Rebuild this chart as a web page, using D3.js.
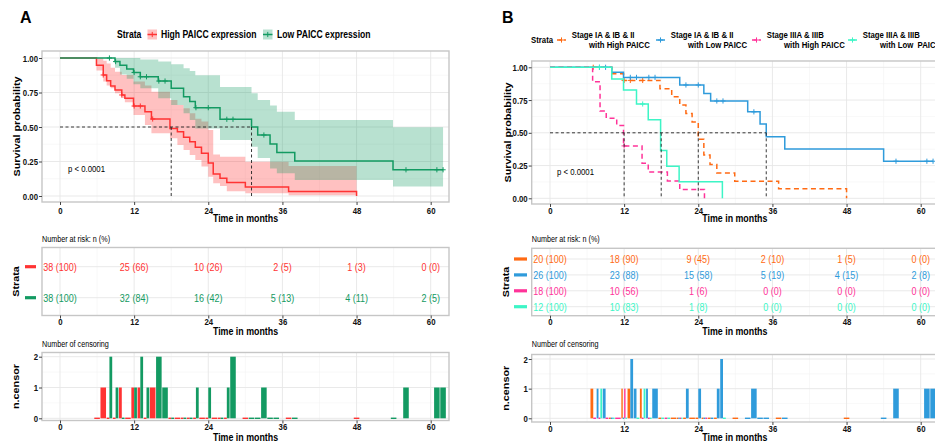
<!DOCTYPE html>
<html lang="en">
<head>
<meta charset="UTF-8">
<title>PAICC survival curves</title>
<script src="https://d3js.org/d3.v7.min.js"></script>
<style>
    body { margin: 0; background: #fff; }
    svg { display: block; font-family: 'Liberation Sans', Arial, Helvetica, sans-serif; }
</style>
</head>
<body>
<svg id="chart" width="935" height="444"></svg>
<script>
// ---------- shared axes ----------
const months = [0, 12, 24, 36, 48, 60];
const minorMonths = [6, 18, 30, 42, 54];
const survTicks = [0, 0.25, 0.5, 0.75, 1];
const survMinor = [0.125, 0.375, 0.625, 0.875];
const censorTicks = [0, 1, 2];
const censorMinor = [0.5, 1.5];

// ---------- panel A : PAICC expression ----------
const strataA = ["High PAICC expression", "Low PAICC expression"];

const highTime  = [0, 5.9, 7.0, 7.55, 8.2, 8.9, 10.0, 10.5, 11.9, 13.75, 14.8, 17.8, 19.0, 20.0, 21.0, 21.9, 22.9, 24.0, 24.8, 25.9, 27.0, 30.0, 37.0, 48.0];
const highSurv  = [1, 0.947, 0.877, 0.836, 0.797, 0.768, 0.732, 0.708, 0.652, 0.611, 0.558, 0.49, 0.466, 0.425, 0.394, 0.353, 0.309, 0.24, 0.16, 0.128, 0.097, 0.065, 0.032, 0];
const highUpper = [1, 1, 0.98, 0.96, 0.93, 0.90, 0.877, 0.877, 0.829, 0.80, 0.756, 0.696, 0.66, 0.635, 0.60, 0.56, 0.54, 0.478, 0.30, 0.285, 0.285, 0.249, 0.217, 0.217];
const highLower = [1, 0.91, 0.83, 0.80, 0.78, 0.744, 0.71, 0.68, 0.587, 0.514, 0.454, 0.418, 0.37, 0.333, 0.297, 0.261, 0.213, 0.14, 0.092, 0.072, 0.035, 0.02, 0.005, 0.005];

const lowTime  = [0, 8.9, 9.7, 10.8, 11.9, 13.0, 15.9, 18.0, 20.0, 21.0, 21.9, 25.9, 31.0, 32.0, 34.0, 35.1, 38.0, 53.9, 62.0];
const lowSurv  = [1, 0.974, 0.947, 0.921, 0.895, 0.864, 0.833, 0.78, 0.72, 0.684, 0.64, 0.556, 0.50, 0.442, 0.377, 0.316, 0.254, 0.19, 0.19];
const lowUpper = [1, 1, 1, 1, 1, 0.99, 0.975, 0.955, 0.925, 0.905, 0.875, 0.79, 0.744, 0.696, 0.655, 0.611, 0.551, 0.498, 0.498];
const lowLower = [1, 0.93, 0.88, 0.85, 0.81, 0.78, 0.708, 0.66, 0.60, 0.55, 0.49, 0.406, 0.357, 0.275, 0.20, 0.164, 0.116, 0.068, 0.068];

const riskHigh = ["38 (100)", "25 (66)", "10 (26)", "2 (5)", "1 (3)", "0 (0)"];
const riskLow  = ["38 (100)", "32 (84)", "16 (42)", "5 (13)", "4 (11)", "2 (5)"];

// [month, n.censor]
const censorHigh = [[6,0],[7,1],[8,0],[9,0],[10,1],[11,0],[12,1],[13,1],[14,0],[15,1],[18,0],[19,0],[20,0],[21,0],[22,0],[23,0],[24,0],[25,0],[26,0],[27,0],[30,0],[37,0],[48,0]];
const censorLow  = [[8,2],[9,1],[10,0],[12,1],[13,2],[14,1],[16,2],[17,1],[18,0],[20,0],[21,0],[22,1],[24,1],[26,0],[27,1],[28,2],[31,0],[32,0],[33,1],[34,0],[35,0],[38,0],[54,0],[56,1],[61,1],[62,1]];

const medianA = [18, 31];

// ---------- panel B : stage x PAICC ----------
const strataB = [
    ["Stage IA & IB & II", "with High PAICC"],
    ["Stage IA & IB & II", "with Low PAICC"],
    ["Stage IIIA & IIIB", "with High PAICC"],
    ["Stage IIIA & IIIB", "with Low  PAICC"]
];

const earlyHighTime = [0, 10.0, 11.9, 17.8, 19.7, 21.0, 22.0, 23.0, 24.0, 24.9, 25.9, 27.0, 29.9, 37.0, 48.0];
const earlyHighSurv = [1, 0.95, 0.90, 0.836, 0.776, 0.712, 0.648, 0.583, 0.45, 0.33, 0.258, 0.194, 0.13, 0.072, 0];
const earlyLowTime  = [0, 10.0, 11.9, 21.0, 24.9, 26.0, 32.0, 34.0, 35.0, 38.0, 54.0, 62.0];
const earlyLowSurv  = [1, 0.962, 0.923, 0.865, 0.80, 0.743, 0.66, 0.567, 0.47, 0.377, 0.283, 0.283];
const lateHighTime  = [0, 6.9, 8.1, 9.1, 10.8, 11.9, 14.9, 15.9, 19.0, 21.0, 25.0];
const lateHighSurv  = [1, 0.889, 0.667, 0.611, 0.556, 0.40, 0.267, 0.20, 0.133, 0.067, 0];
const lateLowTime   = [0, 10.0, 11.9, 14.0, 15.9, 17.9, 18.9, 20.9, 27.9];
const lateLowSurv   = [1, 0.91, 0.827, 0.72, 0.60, 0.364, 0.245, 0.127, 0];

const riskEarlyHigh = ["20 (100)", "18 (90)", "9 (45)", "2 (10)", "1 (5)", "0 (0)"];
const riskEarlyLow  = ["26 (100)", "23 (88)", "15 (58)", "5 (19)", "4 (15)", "2 (8)"];
const riskLateHigh  = ["18 (100)", "10 (56)", "1 (6)", "0 (0)", "0 (0)", "0 (0)"];
const riskLateLow   = ["12 (100)", "10 (83)", "1 (8)", "0 (0)", "0 (0)", "0 (0)"];

const censorEarlyHigh = [[7,1],[10,0],[12,1],[13,1],[15,1],[18,0],[20,0],[21,0],[22,0],[23,0],[24,0],[25,0],[26,0],[27,0],[30,0],[37,0],[48,0]];
const censorEarlyLow  = [[8,1],[9,1],[10,0],[12,0],[13,2],[14,1],[16,1],[17,1],[21,0],[22,1],[24,1],[25,0],[26,0],[27,1],[28,2],[32,0],[33,1],[34,0],[35,0],[38,0],[54,0],[56,1],[61,1],[62,1]];
const censorLateHigh  = [[7,0],[8,0],[9,0],[11,0],[12,1],[15,0],[16,0],[19,0],[21,0],[25,0]];
const censorLateLow   = [[8,1],[10,0],[12,0],[14,0],[15,1],[16,0],[18,0],[19,0],[21,0],[28,0]];

const medianB = [12, 18, 24, 35];

// ---------- drawing ----------
const SX = 0.82;   // the source figure is squeezed horizontally
const svg = d3.select("#chart");

function label(g, x, y, s, o = {}) {
    return g.append("text")
        .attr("transform", `translate(${x},${y}) scale(${o.sx || SX},1)` + (o.rot ? " rotate(-90)" : ""))
        .attr("text-anchor", o.anchor || "start")
        .attr("dy", o.rot ? "0.35em" : null)
        .attr("font-size", o.size || 10)
        .attr("font-weight", o.bold ? "bold" : "normal")
        .attr("fill", o.fill || "#000")
        .style("white-space", "pre")
        .text(s);
}

function grid(g, x, y, fx, fy, yMajor, yMinor) {
    const lines = (vals, horiz, col, w) => vals.forEach(v => {
        const l = g.append("line").attr("stroke", col).attr("stroke-width", w);
        if (horiz) l.attr("x1", fx[0]).attr("x2", fx[1]).attr("y1", y(v)).attr("y2", y(v));
        else l.attr("x1", x(v)).attr("x2", x(v)).attr("y1", fy[0]).attr("y2", fy[1]);
    });
    lines(minorMonths, false, "#F3F3F3", 0.6);
    lines(yMinor, true, "#F3F3F3", 0.6);
    lines(months, false, "#E6E6E6", 0.9);
    lines(yMajor, true, "#E6E6E6", 0.9);
}

function frame(g, fx, fy) {
    g.append("rect").attr("x", fx[0]).attr("y", fy[0])
        .attr("width", fx[1] - fx[0]).attr("height", fy[1] - fy[0])
        .attr("fill", "none").attr("stroke", "#C6C6C6").attr("stroke-width", 1.4);
}

function xAxis(g, x, y0, pad) {
    const ax = g.append("g").attr("transform", `translate(0,${y0})`)
        .call(d3.axisBottom(x).tickValues(months).tickSize(3).tickPadding(pad));
    ax.attr("font-family", null).attr("font-size", 9.5).attr("font-weight", "bold");
    ax.select(".domain").remove();
    ax.selectAll("line").attr("stroke", "#444");
    ax.selectAll("text").attr("fill", "#111").attr("transform", `scale(${SX},1)`);
}

function yAxis(g, y, x0, ticks, fmt) {
    const ax = g.append("g").attr("transform", `translate(${x0},0)`)
        .call(d3.axisLeft(y).tickValues(ticks).tickSize(3).tickPadding(1).tickFormat(fmt));
    ax.attr("font-family", null).attr("font-size", 9.5).attr("font-weight", "bold");
    ax.select(".domain").remove();
    ax.selectAll("line").attr("stroke", "#444");
    ax.selectAll("text").attr("fill", "#111").attr("x", -4 / SX).attr("transform", `scale(${SX},1)`);
}

const plusPath = "M-2.6,0H2.6M0,-2.6V2.6";

function drawPanel(p) {
    const g = svg.append("g");
    const x = d3.scaleLinear().domain([0, 60]).range(p.xRange);
    const fx = p.frameX;
    const midX = (fx[0] + fx[1]) / 2;

    // panel letter
    label(g, p.letterX, 23, p.letter, { size: 16, bold: true, sx: 1 });

    // ---- survival plot ----
    const y = d3.scaleLinear().domain([0, 1]).range(p.survY);
    grid(g, x, y, fx, p.survFrame, survTicks, survMinor);

    p.groups.forEach((gr, i) => {
        if (!gr.upper) return;
        const pts = gr.time.map((t, k) => ({ t, lo: gr.lower[k], up: gr.upper[k] }));
        g.append("path").datum(pts)
            .attr("d", d3.area().curve(d3.curveStepAfter)
                .x(d => x(d.t)).y0(d => y(d.lo)).y1(d => y(d.up)))
            .attr("fill", p.colors[i]).attr("fill-opacity", 0.3);
    });

    p.groups.forEach((gr, i) => {
        const pts = gr.time.map((t, k) => [t, gr.surv[k]]);
        g.append("path").datum(pts)
            .attr("d", d3.line().curve(d3.curveStepAfter).x(d => x(d[0])).y(d => y(d[1])))
            .attr("fill", "none").attr("stroke", p.colors[i]).attr("stroke-width", 1.5)
            .attr("stroke-dasharray", p.dashed[i] ? "5,3.5" : null);
        // censoring marks
        gr.censor.filter(c => c[1] > 0).forEach(c => {
            const k = d3.bisectRight(gr.time, c[0]) - 1;
            g.append("path").attr("d", plusPath)
                .attr("transform", `translate(${x(c[0])},${y(gr.surv[k])})`)
                .attr("stroke", p.colors[i]).attr("stroke-width", 1).attr("fill", "none");
        });
    });

    // median lines
    const mMax = d3.max(p.medians);
    g.append("line").attr("x1", x(0)).attr("x2", x(mMax)).attr("y1", y(0.5)).attr("y2", y(0.5))
        .attr("stroke", "#222").attr("stroke-width", 0.9).attr("stroke-dasharray", "3,2.5");
    p.medians.forEach(m => {
        g.append("line").attr("x1", x(m)).attr("x2", x(m)).attr("y1", y(0.5)).attr("y2", y(0))
            .attr("stroke", "#222").attr("stroke-width", 0.9).attr("stroke-dasharray", "3,2.5");
    });

    label(g, p.pX, p.pY, "p < 0.0001", { size: 9.5 });
    frame(g, fx, p.survFrame);
    xAxis(g, x, p.survFrame[1], p.survPad);
    yAxis(g, y, fx[0], survTicks, d3.format(".2f"));
    label(g, midX, 222, "Time in months", { size: 10.8, bold: true, anchor: "middle" });
    label(g, p.yTitleX, (p.survFrame[0] + p.survFrame[1]) / 2, "Survival probability",
        { size: 10.8, bold: true, anchor: "middle", rot: true });

    // ---- risk table ----
    const yr = d3.scalePoint().domain(d3.range(p.groups.length)).range(p.riskRows);
    grid(g, x, yr, fx, p.riskFrame, d3.range(p.groups.length), []);
    p.groups.forEach((gr, i) => {
        months.forEach((m, j) => {
            label(g, x(m), yr(i) + 4, gr.risk[j], { size: 11, anchor: "middle", fill: p.colors[i] });
        });
        g.append("line").attr("x1", p.dashX[0]).attr("x2", p.dashX[1])
            .attr("y1", yr(i)).attr("y2", yr(i))
            .attr("stroke", p.colors[i]).attr("stroke-width", 3.2);
    });
    frame(g, fx, p.riskFrame);
    xAxis(g, x, p.riskFrame[1], 0);
    label(g, fx[0], 241.5, "Number at risk: n (%)", { size: 8.8 });
    label(g, midX, 335.3, "Time in months", { size: 10.8, bold: true, anchor: "middle" });
    label(g, p.yTitleX - 1.5, (p.riskFrame[0] + p.riskFrame[1]) / 2, "Strata",
        { size: 10.8, bold: true, anchor: "middle", rot: true });

    // ---- number of censoring ----
    const yc = d3.scaleLinear().domain([0, 2]).range(p.censorY);
    grid(g, x, yc, fx, p.censorFrame, censorTicks, censorMinor);
    const byTime = d3.group(p.groups.flatMap((gr, i) => gr.censor.map(c => ({ t: c[0], n: c[1], i }))), d => d.t);
    const bw = 0.9;
    byTime.forEach(list => {
        list.sort((a, b) => a.i - b.i);
        const w = bw / list.length;
        list.forEach((d, j) => {
            const x0 = x(d.t - bw / 2 + j * w), x1 = x(d.t - bw / 2 + (j + 1) * w);
            const top = d.n > 0 ? yc(d.n) : yc(0) - 0.7;
            g.append("rect").attr("x", x0).attr("width", x1 - x0)
                .attr("y", top).attr("height", d.n > 0 ? yc(0) - top : 1.4)
                .attr("fill", p.colors[d.i]);
        });
    });
    frame(g, fx, p.censorFrame);
    xAxis(g, x, p.censorFrame[1], 0);
    yAxis(g, yc, fx[0], censorTicks, d3.format("d"));
    label(g, fx[0], 347.3, "Number of censoring", { size: 8.8 });
    label(g, midX, 440.8, "Time in months", { size: 10.8, bold: true, anchor: "middle" });
    label(g, p.yTitleX - 1.5, (p.censorFrame[0] + p.censorFrame[1]) / 2, "n.censor",
        { size: 10.8, bold: true, anchor: "middle", rot: true });

    return g;
}

// ---- panel A ----
const colorsA = ["#FF3333", "#139A62"];
const gA = drawPanel({
    letter: "A", letterX: 20,
    xRange: [60, 430.7], frameX: [42, 449],
    survY: [196, 58], survFrame: [51, 202], survPad: 2,
    riskRows: [266.7, 297.7], riskFrame: [247.5, 315.5],
    censorY: [418.3, 356.7], censorFrame: [352.5, 420.5],
    yTitleX: 17, dashX: [25, 36], pX: 68, pY: 171.5,
    colors: colorsA, dashed: [false, false], medians: medianA,
    groups: [
        { time: highTime, surv: highSurv, upper: highUpper, lower: highLower, risk: riskHigh, censor: censorHigh },
        { time: lowTime, surv: lowSurv, upper: lowUpper, lower: lowLower, risk: riskLow, censor: censorLow }
    ]
});

// legend A
label(gA, 117, 37.5, "Strata", { size: 10.5, bold: true });
[[147.5, 161], [263, 277]].forEach((pos, i) => {
    gA.append("rect").attr("x", pos[0]).attr("y", 29.5).attr("width", 9.5).attr("height", 10)
        .attr("fill", colorsA[i]).attr("fill-opacity", 0.3);
    gA.append("line").attr("x1", pos[0]).attr("x2", pos[0] + 9.5).attr("y1", 34.5).attr("y2", 34.5)
        .attr("stroke", colorsA[i]).attr("stroke-width", 1.5);
    gA.append("path").attr("d", plusPath).attr("transform", `translate(${pos[0] + 4.75},34.5)`)
        .attr("stroke", colorsA[i]).attr("fill", "none");
    label(gA, pos[1], 37.5, strataA[i], { size: 10.5, bold: true });
});

// ---- panel B ----
const colorsB = ["#FF6A13", "#2F9BDB", "#FF3399", "#3DF5C6"];
const dashedB = [true, false, true, false];
const gB = drawPanel({
    letter: "B", letterX: 502,
    xRange: [550, 920.7], frameX: [531.7, 938],
    survY: [198.3, 67.3], survFrame: [61, 204], survPad: 0,
    riskRows: [259, 306.7], riskFrame: [248.3, 315.7],
    censorY: [418.3, 359], censorFrame: [354.5, 422],
    yTitleX: 507.5, dashX: [514, 527], pX: 557, pY: 174.5,
    colors: colorsB, dashed: dashedB, medians: medianB,
    groups: [
        { time: earlyHighTime, surv: earlyHighSurv, risk: riskEarlyHigh, censor: censorEarlyHigh },
        { time: earlyLowTime, surv: earlyLowSurv, risk: riskEarlyLow, censor: censorEarlyLow },
        { time: lateHighTime, surv: lateHighSurv, risk: riskLateHigh, censor: censorLateHigh },
        { time: lateLowTime, surv: lateLowSurv, risk: riskLateLow, censor: censorLateLow }
    ]
});

// legend B
label(gB, 531, 43.3, "Strata", { size: 9.5, bold: true });
[557, 656, 752, 848].forEach((kx, i) => {
    gB.append("line").attr("x1", kx).attr("x2", kx + 9).attr("y1", 40).attr("y2", 40)
        .attr("stroke", colorsB[i]).attr("stroke-width", 1.5)
        .attr("stroke-dasharray", dashedB[i] ? "5,2" : null);
    gB.append("path").attr("d", plusPath).attr("transform", `translate(${kx + 4.5},40)`)
        .attr("stroke", colorsB[i]).attr("fill", "none");
    label(gB, kx + 14.7, 38.3, strataB[i][0], { size: 9.5, bold: true });
    label(gB, kx + 32, 48.3, strataB[i][1], { size: 9.5, bold: true });
});
</script>
</body>
</html>
